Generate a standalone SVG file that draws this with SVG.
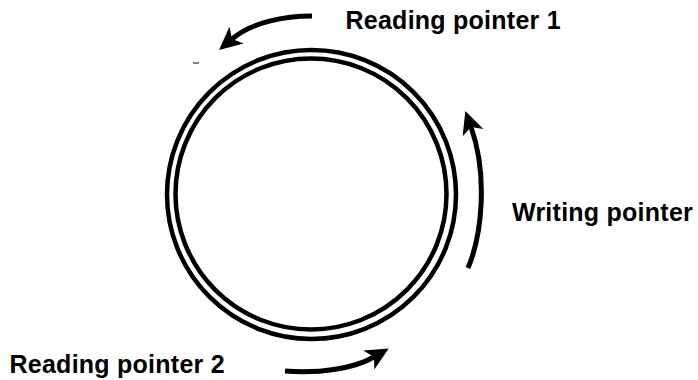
<svg xmlns="http://www.w3.org/2000/svg" width="698" height="380" viewBox="0 0 698 380">
  <style>
    .ring { fill: none; stroke: #000; stroke-width: 4.5; }
    .arrow { fill: none; stroke: #000; stroke-width: 5; marker-end: url(#head); }
    .label { font-family: "Liberation Sans", Arial, sans-serif; font-weight: bold; font-size: 25px; letter-spacing: 0.25px; fill: #000; }
  </style>
  <defs>
    <marker id="head" markerUnits="userSpaceOnUse" markerWidth="24" markerHeight="24" refX="6" refY="11" orient="auto" overflow="visible">
      <path d="M23,11 L0,0 L6,11 L0,22 Z" fill="#000"/>
    </marker>
  </defs>
  <rect width="698" height="380" fill="#fff"/>
  <g id="buffer">
    <circle class="ring" cx="311.5" cy="194.5" r="144.5"/>
    <circle class="ring" cx="311" cy="194" r="135.5"/>
    <line x1="193" y1="63" x2="199" y2="63" stroke="#000" stroke-width="1"/>
  </g>
  <g id="connectors">
    <path class="arrow" d="M312,16 C285,16 252,22 232,39"/>
    <path class="arrow" d="M468,268 C482,235 488,175 471,127"/>
    <path class="arrow" d="M285,371 C320,374 355,368 374,357"/>
  </g>
  <g id="reading1">
    <text class="label" x="345.5" y="28.5">Reading pointer 1</text>
  </g>
  <g id="writing">
    <text class="label" x="512" y="221">Writing pointer</text>
  </g>
  <g id="reading2">
    <text class="label" x="9.5" y="372.5">Reading pointer 2</text>
  </g>
</svg>
